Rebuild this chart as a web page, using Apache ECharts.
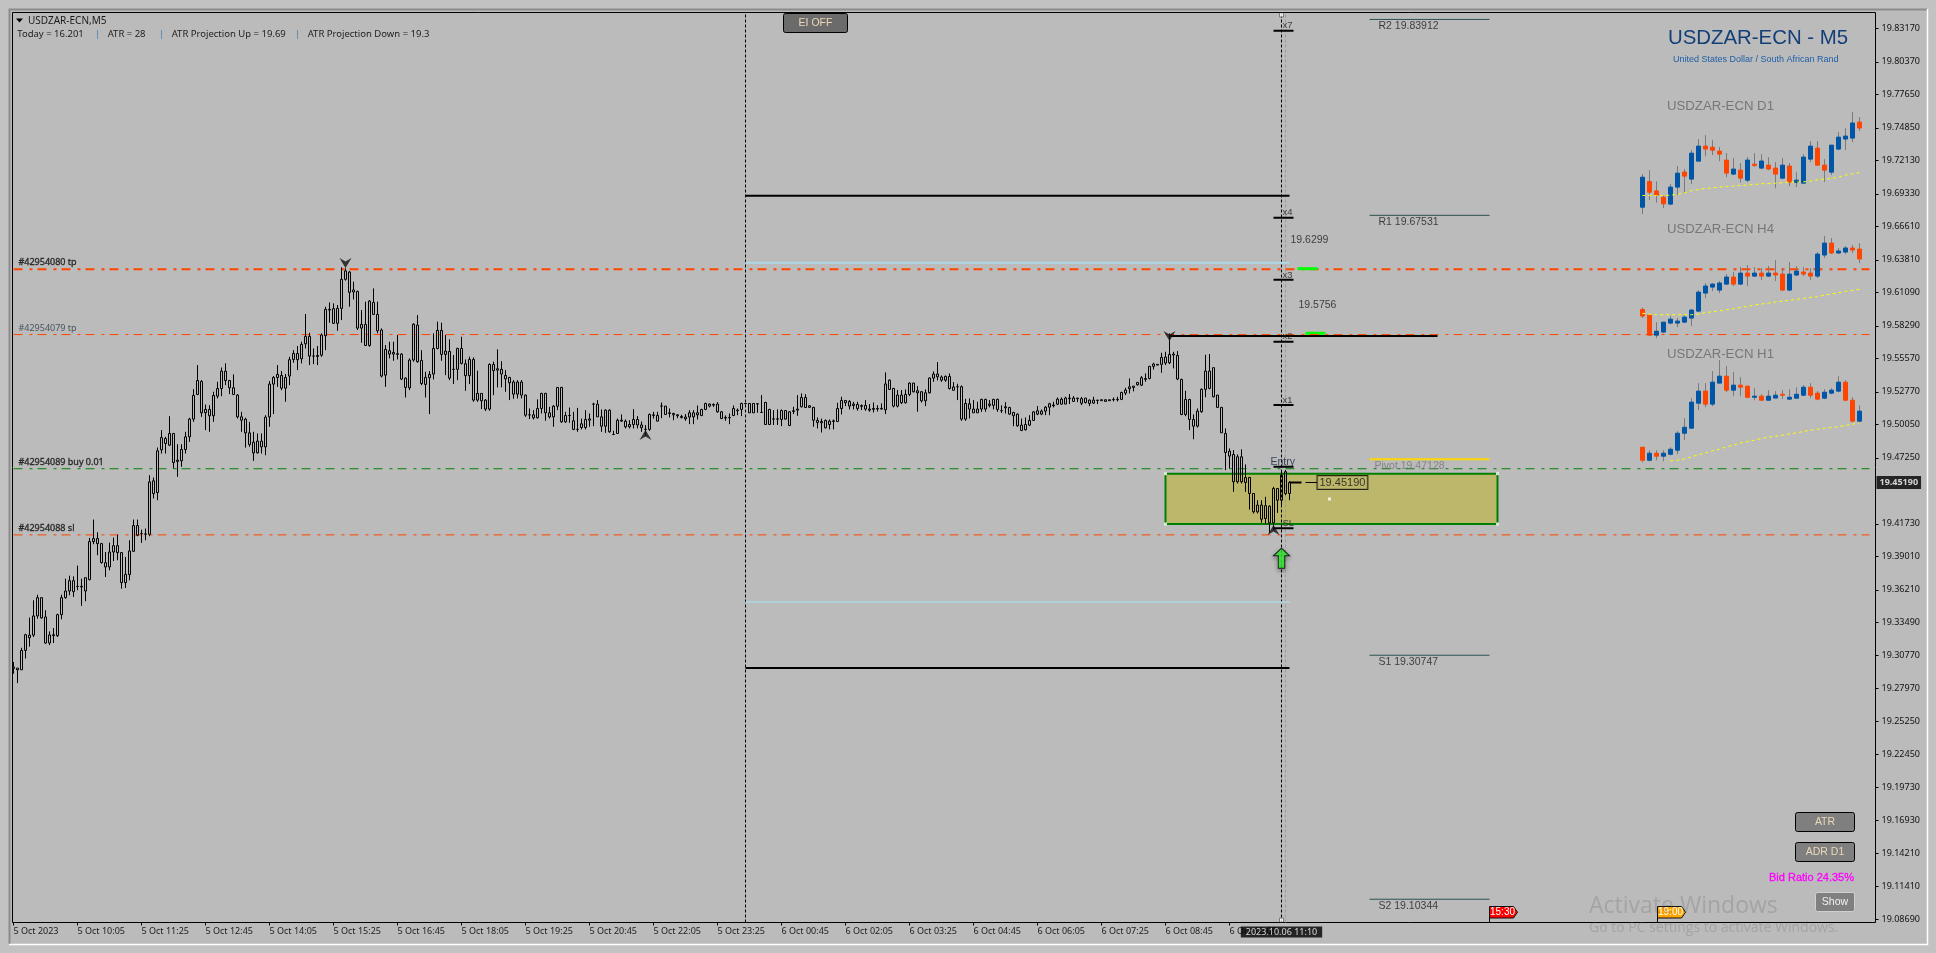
<!DOCTYPE html>
<html><head><meta charset="utf-8">
<style>html,body{margin:0;padding:0;background:#c2c2c2}#c{width:1936px;height:953px}</style>
<script src="https://cdn.jsdelivr.net/npm/echarts@6/dist/echarts.min.js"></script>
</head><body><div id="c"></div>
<script>
const tickLabels=['5 Oct 2023','5 Oct 10:05','5 Oct 11:25','5 Oct 12:45','5 Oct 14:05','5 Oct 15:25','5 Oct 16:45','5 Oct 18:05','5 Oct 19:25','5 Oct 20:45','5 Oct 22:05','5 Oct 23:25','6 Oct 00:45','6 Oct 02:05','6 Oct 03:25','6 Oct 04:45','6 Oct 06:05','6 Oct 07:25','6 Oct 08:45','6 Oct 10:05'];
const priceTicks=[19.8317,19.8037,19.7765,19.7485,19.7213,19.6933,19.6661,19.6381,19.6109,19.5829,19.5557,19.5277,19.5005,19.4725,19.4173,19.3901,19.3621,19.3349,19.3077,19.2797,19.2525,19.2245,19.1973,19.1693,19.1421,19.1141,19.0869];
// candles: [open, close, low, high]
const barsRally=[
[19.2965,19.2976,19.2920,19.3018],[19.2967,19.2953,19.2842,19.2967],[19.2953,19.3115,19.2953,19.3137],[19.3115,19.3246,19.3047,19.3254],
[19.3221,19.3243,19.3147,19.3389],[19.3243,19.3403,19.3227,19.3534],[19.3403,19.3556,19.3380,19.3581],[19.3556,19.3387,19.3380,19.3553],
[19.3395,19.3177,19.3171,19.3451],[19.3177,19.3244,19.3160,19.3274],[19.3238,19.3246,19.3177,19.3302],[19.3238,19.3414,19.3227,19.3422],
[19.3414,19.3556,19.3375,19.3581],[19.3556,19.3612,19.3548,19.3715],[19.3612,19.3698,19.3576,19.3740],[19.3698,19.3606,19.3562,19.3734],
[19.3650,19.3651,19.3618,19.3824],[19.3651,19.3645,19.3487,19.3715],[19.3612,19.3723,19.3526,19.3723],[19.3707,19.4025,19.3701,19.4056],
[19.4025,19.4050,19.4003,19.4209],[19.4050,19.4008,19.3911,19.4103],[19.4008,19.3849,19.3841,19.4014],[19.3849,19.3813,19.3729,19.3938],
[19.3813,19.3938,19.3785,19.4016],[19.3938,19.3991,19.3863,19.4058],[19.3991,19.3933,19.3869,19.4083],[19.3933,19.3682,19.3631,19.3938],
[19.3682,19.3751,19.3637,19.3896],[19.3749,19.3947,19.3701,19.4036],[19.3944,19.4159,19.3938,19.4209],[19.4159,19.4078,19.4070,19.4209],
[19.4092,19.4092,19.4014,19.4125],[19.4086,19.4089,19.4036,19.4134],[19.4086,19.4524,19.4070,19.4580],[19.4426,19.4533,19.4385,19.4561],
[19.4435,19.4784,19.4371,19.4812],[19.4792,19.4895,19.4761,19.4957],[19.4845,19.4887,19.4761,19.4901],[19.4831,19.4929,19.4823,19.5074],
[19.4929,19.4686,19.4636,19.4929],[19.4695,19.4706,19.4566,19.4839],[19.4700,19.4795,19.4650,19.4839],[19.4795,19.4901,19.4761,19.4943],
[19.4901,19.5049,19.4859,19.5060],[19.5049,19.5247,19.5026,19.5300],[19.5255,19.5372,19.5250,19.5501],[19.5364,19.5102,19.5068,19.5375],
[19.5102,19.5130,19.4957,19.5171],[19.5130,19.5077,19.4943,19.5166],[19.5077,19.5247,19.5026,19.5278],[19.5241,19.5305,19.5222,19.5361],
[19.5305,19.5450,19.5241,19.5481],[19.5450,19.5372,19.5333,19.5515],[19.5372,19.5311,19.5258,19.5375],[19.5311,19.5255,19.5250,19.5423],
[19.5250,19.5068,19.5054,19.5258],[19.5068,19.5040,19.4943,19.5110],[19.5049,19.4934,19.4811,19.5060],[19.4934,19.4837,19.4817,19.5026],
[19.4856,19.4767,19.4700,19.4943],[19.4767,19.4865,19.4761,19.4929],[19.4865,19.4817,19.4761,19.4929],[19.4817,19.5065,19.4747,19.5082],
[19.5068,19.5342,19.4985,19.5367],[19.5342,19.5397,19.5091,19.5409],[19.5397,19.5423,19.5319,19.5501],[19.5414,19.5308,19.5291,19.5451],
[19.5308,19.5397,19.5194,19.5426],[19.5409,19.5546,19.5333,19.5570],[19.5548,19.5598,19.5520,19.5626],[19.5546,19.5598,19.5459,19.5660],
[19.5554,19.5674,19.5515,19.5696],[19.5679,19.5741,19.5640,19.5928],[19.5741,19.5576,19.5501,19.5771],[19.5576,19.5576,19.5509,19.5640],
[19.5573,19.5581,19.5501,19.5660],[19.5584,19.5752,19.5570,19.5766],[19.5746,19.5967,19.5626,19.5989],[19.5967,19.5961,19.5855,19.6025],
[19.5973,19.5850,19.5844,19.6017],[19.5850,19.5975,19.5788,19.6003],[19.5975,19.6218,19.5877,19.6318],[19.6218,19.6288,19.6207,19.6310],
[19.6279,19.6109,19.5989,19.6288],[19.6129,19.6112,19.6050,19.6198],[19.6117,19.5810,19.5794,19.6123],[19.5810,19.5841,19.5688,19.5961],
[19.5841,19.5665,19.5660,19.6031],[19.5665,19.6036,19.5654,19.6045],[19.6025,19.5925,19.5919,19.6142],[19.5925,19.5788,19.5766,19.6031],
[19.5794,19.5409,19.5398,19.5808],[19.5417,19.5632,19.5319,19.5668],[19.5621,19.5593,19.5557,19.5696],[19.5607,19.5593,19.5537,19.5696],
[19.5596,19.5590,19.5548,19.5752]];
const barsMidday=[
[19.5593,19.5384,19.5375,19.5599],[19.5392,19.5314,19.5230,19.5398],[19.5311,19.5543,19.5292,19.5557],[19.5543,19.5843,19.5529,19.5850],
[19.5835,19.5529,19.5520,19.5919],[19.5540,19.5347,19.5333,19.5626],[19.5398,19.5339,19.5230,19.5445],[19.5395,19.5423,19.5091,19.5451],
[19.5426,19.5640,19.5381,19.5766],[19.5640,19.5791,19.5632,19.5864],[19.5791,19.5590,19.5537,19.5855],[19.5618,19.5590,19.5417,19.5752],
[19.5615,19.5392,19.5375,19.5716],[19.5465,19.5465,19.5342,19.5585],[19.5465,19.5640,19.5375,19.5646],[19.5640,19.5515,19.5506,19.5738],
[19.5512,19.5412,19.5286,19.5548],[19.5412,19.5548,19.5342,19.5571],[19.5548,19.5208,19.5194,19.5565],[19.5208,19.5264,19.5194,19.5454],
[19.5264,19.5202,19.5133,19.5264],[19.5208,19.5133,19.5116,19.5216],[19.5133,19.5506,19.5119,19.5515],[19.5506,19.5454,19.5250,19.5529],
[19.5470,19.5459,19.5314,19.5632],[19.5465,19.5426,19.5314,19.5534],[19.5414,19.5386,19.5278,19.5459],[19.5397,19.5353,19.5208,19.5403],
[19.5359,19.5258,19.5219,19.5375],[19.5359,19.5258,19.5222,19.5375],[19.5359,19.5250,19.5222,19.5375],[19.5250,19.5082,19.5068,19.5255],
[19.5085,19.5085,19.5049,19.5138],[19.5085,19.5060,19.5046,19.5124],[19.5060,19.5138,19.5054,19.5214],[19.5138,19.5264,19.5096,19.5269],
[19.5264,19.5102,19.5035,19.5269],[19.5102,19.5068,19.5054,19.5152],[19.5068,19.5157,19.4985,19.5166],[19.5157,19.5314,19.5124,19.5314],
[19.5314,19.5026,19.5018,19.5319],[19.5026,19.5079,19.5018,19.5110],[19.5079,19.5079,19.5018,19.5146],[19.5035,19.4963,19.4957,19.5110],
[19.4963,19.4963,19.4943,19.5143],[19.5010,19.4979,19.4963,19.5054],[19.4979,19.5046,19.4963,19.5124],[19.5040,19.5051,19.4985,19.5096],
[19.5174,19.5174,19.4990,19.5186],[19.5174,19.5068,19.5068,19.5208],[19.5068,19.4990,19.4943,19.5130],[19.4990,19.5124,19.4934,19.5130],
[19.5124,19.4943,19.4935,19.5130],[19.4921,19.4921,19.4915,19.4952],[19.4929,19.5040,19.4929,19.5054],[19.5040,19.5032,19.5026,19.5088],
[19.5032,19.4985,19.4971,19.5046],[19.4985,19.5004,19.4971,19.5040],[19.5004,19.5046,19.4971,19.5133],[19.5046,19.5000,19.4971,19.5074],
[19.5000,19.4977,19.4943,19.5029],[19.4963,19.4963,19.4907,19.4999],[19.4963,19.5088,19.4951,19.5096],[19.5085,19.5080,19.5054,19.5110],
[19.5080,19.5032,19.5032,19.5110],[19.5158,19.5158,19.5057,19.5188],[19.5158,19.5088,19.5088,19.5158],[19.5096,19.5102,19.5063,19.5138],
[19.5096,19.5085,19.5040,19.5102],[19.5085,19.5077,19.5057,19.5091],[19.5071,19.5063,19.5054,19.5085],[19.5051,19.5066,19.5035,19.5091],
[19.5066,19.5102,19.5007,19.5124],[19.5102,19.5068,19.5007,19.5124],[19.5102,19.5085,19.5046,19.5163],[19.5079,19.5130,19.5074,19.5135],
[19.5130,19.5180,19.5124,19.5186],[19.5175,19.5158,19.5147,19.5180],[19.5172,19.5166,19.5152,19.5180],[19.5175,19.5110,19.5102,19.5191],
[19.5110,19.5054,19.5049,19.5116],[19.5063,19.5057,19.5035,19.5080],[19.5063,19.5060,19.5007,19.5096],[19.5079,19.5138,19.5074,19.5163],
[19.5124,19.5119,19.5082,19.5138],[19.5130,19.5180,19.5074,19.5186],[19.5180,19.5177,19.5177,19.5180],[19.5180,19.5102,19.5102,19.5180],
[19.5180,19.5102,19.5102,19.5180],[19.5177,19.5175,19.5102,19.5180],[19.5105,19.5105,19.5102,19.5250],[19.5188,19.5004,19.5000,19.5194],
[19.5130,19.5004,19.5000,19.5135],[19.5051,19.5049,19.5000,19.5124],[19.5051,19.5049,19.5000,19.5130],[19.5121,19.5046,19.4990,19.5130],
[19.5121,19.5049,19.5046,19.5124],[19.5110,19.4996,19.4990,19.5116],[19.5119,19.5113,19.5091,19.5152]];
const barsMorning=[
[19.5133,19.5124,19.5077,19.5250],[19.5152,19.5230,19.5147,19.5264],[19.5230,19.5146,19.5146,19.5258],[19.5161,19.5147,19.5147,19.5163],
[19.5147,19.5040,19.4985,19.5152],[19.5038,19.5021,19.4971,19.5063],[19.5029,19.5018,19.4937,19.5054],[19.5038,19.4976,19.4971,19.5046],
[19.5032,19.5004,19.4963,19.5046],[19.5035,19.5029,19.4963,19.5046],[19.5029,19.5138,19.5024,19.5186],[19.5205,19.5138,19.5088,19.5236],
[19.5205,19.5186,19.5158,19.5208],[19.5197,19.5158,19.5130,19.5208],[19.5175,19.5163,19.5130,19.5194],[19.5172,19.5138,19.5119,19.5194],
[19.5163,19.5156,19.5124,19.5172],[19.5163,19.5133,19.5119,19.5208],[19.5133,19.5124,19.5110,19.5175],[19.5138,19.5130,19.5105,19.5188],
[19.5138,19.5133,19.5113,19.5166],[19.5138,19.5133,19.5130,19.5180],[19.5127,19.5343,19.5091,19.5440],[19.5375,19.5297,19.5292,19.5381],
[19.5305,19.5158,19.5147,19.5311],[19.5158,19.5250,19.5147,19.5292],[19.5250,19.5186,19.5175,19.5292],[19.5186,19.5255,19.5180,19.5297],
[19.5255,19.5350,19.5241,19.5356],[19.5350,19.5278,19.5272,19.5353],[19.5286,19.5269,19.5111,19.5325],[19.5278,19.5202,19.5188,19.5283],
[19.5202,19.5269,19.5158,19.5297],[19.5269,19.5392,19.5264,19.5398],[19.5392,19.5426,19.5361,19.5448],[19.5426,19.5403,19.5372,19.5526],
[19.5401,19.5375,19.5361,19.5414],[19.5375,19.5406,19.5361,19.5414],[19.5406,19.5305,19.5297,19.5431],[19.5318,19.5290,19.5290,19.5359],
[19.5320,19.5320,19.5208,19.5345],[19.5320,19.5049,19.5035,19.5331],[19.5049,19.5180,19.5035,19.5219],[19.5177,19.5133,19.5054,19.5222],
[19.5133,19.5102,19.5102,19.5208],[19.5102,19.5133,19.5102,19.5194],[19.5133,19.5214,19.5110,19.5219],[19.5214,19.5133,19.5110,19.5219],
[19.5175,19.5164,19.5147,19.5208],[19.5164,19.5214,19.5130,19.5219],[19.5214,19.5130,19.5110,19.5220],[19.5119,19.5119,19.5101,19.5164],
[19.5152,19.5144,19.5096,19.5191],[19.5146,19.5091,19.5085,19.5152],[19.5105,19.5077,19.4990,19.5110],[19.5091,19.4993,19.4985,19.5096],
[19.4954,19.4999,19.4949,19.5054],[19.5004,19.4960,19.4954,19.5063],[19.4999,19.5038,19.4990,19.5082],[19.5038,19.5110,19.5035,19.5116],
[19.5119,19.5091,19.5082,19.5158],[19.5091,19.5116,19.5082,19.5130],[19.5116,19.5149,19.5082,19.5158],[19.5149,19.5177,19.5082,19.5186],
[19.5167,19.5161,19.5147,19.5194],[19.5216,19.5174,19.5166,19.5230],[19.5174,19.5216,19.5172,19.5230],[19.5175,19.5225,19.5175,19.5236],
[19.5225,19.5220,19.5175,19.5259],[19.5225,19.5197,19.5194,19.5242],[19.5225,19.5220,19.5191,19.5225],[19.5220,19.5182,19.5166,19.5234],
[19.5225,19.5188,19.5180,19.5225],[19.5208,19.5180,19.5158,19.5214],[19.5208,19.5183,19.5177,19.5236],[19.5205,19.5208,19.5175,19.5208],
[19.5211,19.5203,19.5203,19.5211],[19.5211,19.5197,19.5197,19.5211],[19.5211,19.5203,19.5203,19.5211],[19.5211,19.5214,19.5197,19.5230],
[19.5211,19.5214,19.5197,19.5236],[19.5214,19.5272,19.5208,19.5278],[19.5267,19.5292,19.5250,19.5311],[19.5303,19.5319,19.5264,19.5389],
[19.5314,19.5325,19.5281,19.5325],[19.5336,19.5356,19.5330,19.5356],[19.5333,19.5395,19.5325,19.5409],[19.5381,19.5389,19.5361,19.5431],
[19.5389,19.5490,19.5381,19.5495],[19.5490,19.5510,19.5464,19.5520],[19.5501,19.5507,19.5501,19.5507],[19.5507,19.5565,19.5437,19.5604],
[19.5518,19.5568,19.5501,19.5612],[19.5520,19.5590,19.5509,19.5766],[19.5593,19.5585,19.5473,19.5612],[19.5582,19.5384,19.5375,19.5618],
[19.5381,19.5088,19.5082,19.5387],[19.5088,19.5213,19.5074,19.5286],[19.5213,19.5046,19.4957,19.5219],[19.5046,19.4990,19.4881,19.5088],
[19.4990,19.5116,19.4979,19.5138]];
const barsFinal=[
[19.5111,19.5298,19.5102,19.5306],[19.5298,19.5451,19.5232,19.5587],[19.5451,19.5306,19.5298,19.5593],[19.5479,19.5236,19.5230,19.5479],
[19.5250,19.5147,19.5147,19.5250],[19.5147,19.4935,19.4935,19.5147],[19.4929,19.4770,19.4622,19.4971],[19.4781,19.4740,19.4636,19.4804],
[19.4753,19.4525,19.4441,19.4790],[19.4734,19.4525,19.4511,19.4754],[19.4734,19.4525,19.4511,19.4796],[19.4561,19.4519,19.4441,19.4670],
[19.4561,19.4427,19.4293,19.4566],[19.4427,19.4274,19.4260,19.4427],[19.4274,19.4330,19.4260,19.4371],[19.4330,19.4212,19.4182,19.4371],
[19.4325,19.4218,19.4171,19.4399],[19.4321,19.4182,19.4098,19.4327],[19.4182,19.4469,19.4120,19.4483],[19.4469,19.4371,19.4265,19.4469],
[19.4371,19.4581,19.4316,19.4608],[19.4427,19.4609,19.4413,19.4622],[19.4427,19.4519,19.4371,19.4530]];
// small panels: [open, close, low, high]
const panelD1=[
[19.6821,19.7072,19.6763,19.7098],[19.7036,19.6946,19.6880,19.7131],[19.6957,19.6922,19.6858,19.7036],[19.6905,19.6849,19.6813,19.6919],
[19.6847,19.6989,19.6838,19.7014],[19.6989,19.7106,19.6922,19.7165],[19.7115,19.7081,19.6939,19.7140],[19.7056,19.7273,19.7014,19.7298],
[19.7206,19.7332,19.7206,19.7391],[19.7332,19.7307,19.7248,19.7424],[19.7323,19.7298,19.7257,19.7382],[19.7290,19.7265,19.7206,19.7324],
[19.7215,19.7106,19.7073,19.7274],[19.7098,19.7140,19.7089,19.7232],[19.7131,19.7064,19.7028,19.7190],[19.7047,19.7215,19.7031,19.7240],
[19.7181,19.7170,19.7159,19.7273],[19.7148,19.7207,19.7139,19.7265],[19.7173,19.7140,19.7131,19.7240],[19.7148,19.7098,19.6980,19.7198],
[19.7064,19.7173,19.7056,19.7232],[19.7165,19.7031,19.6997,19.7190],[19.7028,19.7047,19.6989,19.7114],[19.7022,19.7240,19.7022,19.7265],
[19.7223,19.7332,19.7198,19.7374],[19.7315,19.7173,19.7165,19.7374],[19.7173,19.7131,19.7031,19.7223],[19.7114,19.7340,19.7089,19.7340],
[19.7307,19.7407,19.7298,19.7449],[19.7391,19.7416,19.7298,19.7482],[19.7399,19.7525,19.7365,19.7617],[19.7533,19.7483,19.7458,19.7575]];
const panelH4=[
[19.5966,19.5911,19.5894,19.5983],[19.5919,19.5751,19.5743,19.5919],[19.5751,19.5784,19.5726,19.5860],[19.5777,19.5860,19.5768,19.5860],
[19.5852,19.5885,19.5843,19.5910],[19.5852,19.5869,19.5818,19.5894],[19.5860,19.5902,19.5852,19.5919],[19.5894,19.5961,19.5827,19.5969],
[19.5952,19.6111,19.5944,19.6128],[19.6103,19.6162,19.6061,19.6187],[19.6153,19.6178,19.6120,19.6187],[19.6128,19.6187,19.6103,19.6203],
[19.6178,19.6237,19.6170,19.6262],[19.6237,19.6178,19.6162,19.6279],[19.6178,19.6270,19.6170,19.6321],[19.6270,19.6245,19.6162,19.6337],
[19.6245,19.6270,19.6237,19.6321],[19.6270,19.6245,19.6212,19.6312],[19.6245,19.6270,19.6237,19.6329],[19.6270,19.6254,19.6203,19.6379],
[19.6262,19.6128,19.6120,19.6312],[19.6128,19.6262,19.6120,19.6362],[19.6254,19.6287,19.6245,19.6329],[19.6279,19.6262,19.6245,19.6321],
[19.6270,19.6245,19.6212,19.6312],[19.6245,19.6429,19.6229,19.6446],[19.6421,19.6521,19.6396,19.6580],[19.6521,19.6438,19.6429,19.6563],
[19.6438,19.6455,19.6429,19.6480],[19.6446,19.6480,19.6429,19.6496],[19.6480,19.6463,19.6438,19.6505],[19.6471,19.6388,19.6354,19.6521]];
const panelH1=[
[19.4814,19.4705,19.4688,19.4814],[19.4705,19.4764,19.4696,19.4789],[19.4764,19.4739,19.4705,19.4789],[19.4739,19.4764,19.4696,19.4789],
[19.4755,19.4797,19.4747,19.4814],[19.4789,19.4931,19.4755,19.4948],[19.4931,19.4981,19.4873,19.5057],[19.4973,19.5191,19.4973,19.5224],
[19.5182,19.5283,19.5124,19.5350],[19.5283,19.5174,19.5149,19.5350],[19.5174,19.5358,19.5157,19.5450],[19.5350,19.5408,19.5350,19.5542],
[19.5408,19.5291,19.5274,19.5492],[19.5291,19.5333,19.5241,19.5442],[19.5333,19.5316,19.5241,19.5400],[19.5325,19.5232,19.5224,19.5325],
[19.5232,19.5241,19.5207,19.5308],[19.5241,19.5207,19.5207,19.5257],[19.5207,19.5241,19.5207,19.5291],[19.5225,19.5249,19.5224,19.5283],
[19.5257,19.5249,19.5216,19.5291],[19.5216,19.5232,19.5207,19.5299],[19.5224,19.5257,19.5224,19.5316],[19.5249,19.5316,19.5241,19.5333],
[19.5316,19.5249,19.5224,19.5350],[19.5266,19.5216,19.5207,19.5283],[19.5224,19.5274,19.5216,19.5299],[19.5266,19.5291,19.5257,19.5308],
[19.5283,19.5358,19.5274,19.5408],[19.5358,19.5207,19.5199,19.5375],[19.5207,19.5032,19.5023,19.5232],[19.5032,19.5116,19.5023,19.5166]];
const maD1=[19.6919,19.6919,19.6919,19.6919,19.6922,19.6928,19.6941,19.6958,19.6969,19.6978,19.6983,19.6989,19.6994,19.6997,19.7003,19.7006,19.7011,19.7017,19.7019,19.7022,19.7025,19.7031,19.7031,19.7033,19.7039,19.7050,19.7056,19.7061,19.7072,19.7089,19.7100,19.7109];
const maH4=[19.5933,19.5927,19.5922,19.5922,19.5922,19.5922,19.5922,19.5922,19.5927,19.5938,19.5947,19.5955,19.5963,19.5972,19.5983,19.5991,19.6003,19.6011,19.6019,19.6028,19.6036,19.6042,19.6050,19.6058,19.6067,19.6072,19.6086,19.6095,19.6106,19.6117,19.6125,19.6134];
const maH1=[null,null,null,null,19.4700,19.4705,19.4717,19.4733,19.4750,19.4767,19.4783,19.4797,19.4817,19.4831,19.4850,19.4861,19.4873,19.4887,19.4898,19.4906,19.4914,19.4925,19.4934,19.4945,19.4956,19.4964,19.4973,19.4978,19.4987,19.4995,19.5006,19.5015];
// horizontal levels
const tpLevelMain=19.6302, tpLevelSecond=19.5756, buyLevel=19.4634, slLevel=19.4081;
const blackLevelUp=19.6917, blackLevelDown=19.2968, blueLevelUp=19.6357, blueLevelDown=19.3520, peakLevel=19.5744;
const pivots={R2:19.83912,R1:19.67531,Pivot:19.47128,S1:19.30747,S2:19.10344};
const multiples=[19.8297,19.6733,19.6215,19.5696,19.5167,19.4651,19.4136];
const zoneTop=19.4593, zoneBottom=19.4172, lastPrice=19.4519;

const bars=[].concat(barsRally,barsMidday,barsMorning,barsFinal);
const N=466, PMAX=19.84491, PMIN=19.08398;
const cats=[];for(let i=0;i<N;i++)cats.push(i%16===0&&i/16<tickLabels.length?tickLabels[i/16]:'');
const uiFont='"Noto Sans",sans-serif', txtFont='"Liberation Sans",sans-serif';

function level(a,b,v,color,width,dash,z){return {type:'line',xAxisIndex:0,yAxisIndex:0,data:[[a,v],[b,v]],showSymbol:false,symbol:'none',silent:true,animation:false,z:z||3,lineStyle:{color,width,type:dash||'solid'}}}
const dd=[9,7,3,5];
const levelSeries=[
 level(0,464,tpLevelMain,'#ff4500',2,dd),level(0,464,tpLevelSecond,'#ff4500',1,dd,4),level(0,464,buyLevel,'#008000',1,dd),level(0,464,slLevel,'#ff4500',1,dd),
 level(183,319,blackLevelUp,'#000',2),level(183,319,blackLevelDown,'#000',2),level(183,319,blueLevelUp,'#add8e6',2),level(183,319,blueLevelDown,'#add8e6',1.5),
 level(289,356,peakLevel,'#000',2),
 level(339,369,pivots.R2,'#2f4f4f',1),level(339,369,pivots.R1,'#2f4f4f',1),level(339,369,pivots.S1,'#2f4f4f',1),level(339,369,pivots.S2,'#2f4f4f',1),level(339,369,pivots.Pivot,'#ffd700',2),
 level(321,326,19.6307,'#00ff00',3),level(323,328,19.5767,'#00ff00',3),
 level(319,322,lastPrice,'#000',2),level(323,326,lastPrice,'#000',1)
];
multiples.forEach(v=>levelSeries.push(level(315,320,v,'#000',2)));

function ann(i,p,text,st){return {value:[i,p],label:Object.assign({show:true,formatter:text,position:'right',distance:1,color:'#1c1c1c',fontFamily:txtFont,fontSize:10.5},st||{})}}
const bold={fontFamily:uiFont,fontSize:9,color:'#111',textBorderColor:'#111',textBorderWidth:0.35};
const annots=[
 ann(1,19.6357,'#42954080 tp',bold),ann(1,19.5805,'#42954079 tp',{fontFamily:uiFont,fontSize:9,color:'#2a3a44'}),ann(1,19.4685,'#42954089 buy 0.01',bold),ann(1,19.4136,'#42954088 sl',bold),
 ann(341,19.8336,'R2 19.83912'),ann(341,19.6697,'R1 19.67531'),ann(341,19.3018,'S1 19.30747'),ann(341,19.0977,'S2 19.10344'),ann(340,19.4657,'Pivot 19.47128',{color:'#777'}),
 ann(317,19.8345,'x7',{fontSize:9.5}),ann(317,19.6775,'x4',{fontSize:9.5}),ann(317,19.6254,'x3',{fontSize:9.5}),ann(317,19.5738,'x2',{fontSize:9.5}),ann(317,19.5209,'x1',{fontSize:9.5}),
 ann(314,19.4693,'Entry',{color:'#14233a'}),ann(317,19.4180,'SL',{fontSize:9.5}),
 ann(319,19.6547,'19.6299'),ann(321,19.6003,'19.5756'),
 ann(326,lastPrice,'19.45190',{backgroundColor:'#bdb76b',borderColor:'#000',borderWidth:1,padding:[1,2,1,2],fontSize:11,distance:0,color:'#111'}),
 ann(465,lastPrice,'19.45190',{backgroundColor:'#000',color:'#fff',padding:[2,3,2,3],fontFamily:uiFont,fontSize:9,distance:3,fontWeight:'bold'}),
 {value:[317,PMIN],label:{show:true,formatter:'2023.10.06 11:10',position:'bottom',distance:4,color:'#fff',backgroundColor:'#000',padding:[1,5,1,5],fontFamily:uiFont,fontSize:9}}
];
const arrowPath='path://M0,0 L5,3.5 L10,0 L5,10 Z';
const option={
 animation:false,backgroundColor:'transparent',
 textStyle:{fontFamily:uiFont},
 grid:[{left:11.5,top:12.5,width:1864,height:910,containLabel:false},{left:1638.8,top:12.5,width:224,height:910}],
 xAxis:[{type:'category',gridIndex:0,data:cats,boundaryGap:true,axisLine:{show:false},
   axisTick:{show:true,alignWithLabel:true,length:3,lineStyle:{color:'#000'},interval:(i)=>i%16===0&&i<=304},
   axisLabel:{show:true,interval:(i)=>i%16===0&&i<=304,align:'left',margin:4,color:'#1c1c1c',fontFamily:uiFont,fontSize:9,hideOverlap:false},splitLine:{show:false}},
  {type:'category',gridIndex:1,data:panelD1.map((_,i)=>i),show:false,boundaryGap:true}],
 yAxis:[{type:'value',gridIndex:0,position:'right',min:PMIN,max:PMAX,scale:true,splitLine:{show:false},axisLine:{show:false},
   axisTick:{show:true,length:3,customValues:priceTicks,lineStyle:{color:'#000'}},
   axisLabel:{show:true,customValues:priceTicks,margin:6,color:'#111',fontFamily:uiFont,fontSize:9,formatter:v=>v.toFixed(5)}},
  {type:'value',gridIndex:1,min:PMIN,max:PMAX,show:false,scale:true}],
 graphic:{elements:[
  {type:'rect',z:-10,silent:true,shape:{x:9,y:9,width:1918,height:935},style:{fill:'#bbbbbb',stroke:null}},
  {type:'polyline',z:-9,silent:true,shape:{points:[[9.5,944],[9.5,9.5],[1927,9.5]]},style:{stroke:'#8c8c8c',lineWidth:2,fill:null}},
  {type:'polyline',z:-9,silent:true,shape:{points:[[1927.5,9],[1927.5,944.5],[9,944.5]]},style:{stroke:'#ffffff',lineWidth:1.5,fill:null}},
  {type:'rect',z:1,silent:true,shape:{x:12.5,y:12.5,width:1863,height:910},style:{fill:null,stroke:'#000',lineWidth:1}},
  {type:'polygon',z:6,silent:true,shape:{points:[[16,18.5],[23,18.5],[19.5,22.5]]},style:{fill:'#000'}},
  T(28,21,'USDZAR-ECN,M5',{fontSize:10,fill:'#1a1a1a'}),
  T(17.3,34,'Today = 16.201',{fill:'#222'}),T(95,34,'|',{fill:'#3f7fbf'}),
  T(107.7,34,'ATR = 28',{fill:'#222'}),T(159,34,'|',{fill:'#3f7fbf'}),
  T(171.7,34,'ATR Projection Up = 19.69',{fill:'#222'}),T(295,34,'|',{fill:'#3f7fbf'}),
  T(307.7,34,'ATR Projection Down = 19.3',{fill:'#222'}),
  T(1668,38,'USDZAR-ECN - M5',{fontSize:20.4,fontFamily:txtFont,fill:'#123f78'}),
  T(1673,60,'United States Dollar / South African Rand',{fontSize:9,fontFamily:txtFont,fill:'#1f5fa8'}),
  T(1667,106,'USDZAR-ECN D1',{fontSize:13.2,fontFamily:txtFont,fill:'#777'}),
  T(1667,229.5,'USDZAR-ECN H4',{fontSize:13.2,fontFamily:txtFont,fill:'#777'}),
  T(1667,354,'USDZAR-ECN H1',{fontSize:13.2,fontFamily:txtFont,fill:'#777'}),
  B(783.5,13.5,64,19,'EI OFF','#6b6b6b','#000','#f0d8b8'),
  B(1795.5,812.5,59,19,'ATR','#7f7f7f','#000','#ecd9b8'),
  B(1795.5,842.5,59,19,'ADR D1','#7f7f7f','#000','#ecd9b8'),
  B(1815.5,892.5,39,19,'Show','#808080','#d0d0d0','#f2f2f2'),
  T(1854,878,'Bid Ratio 24.35%',{fontSize:11,fontFamily:txtFont,fill:'#ff00ff',textAlign:'right',stroke:'#ff00ff',lineWidth:0.3}),
  tag(1489.5,'15:30','#ff0000'),tag(1657.5,'19:00','#ffa500'),
  T(1589,906,'Activate Windows',{fontSize:23,fontFamily:'"Open Sans",sans-serif',fill:'rgba(80,80,80,0.22)',z:30}),
  T(1589,928,'Go to PC settings to activate Windows.',{fontSize:14,fontFamily:'"Open Sans",sans-serif',fill:'rgba(80,80,80,0.22)',z:30})
 ]},
 series:[
  {type:'scatter',name:'zone',xAxisIndex:0,yAxisIndex:0,data:[],silent:true,z:1,
   markArea:{silent:true,z:1,itemStyle:{color:'#bdb76b',borderColor:'#008000',borderWidth:2},data:[[{xAxis:288,yAxis:zoneTop},{xAxis:371,yAxis:zoneBottom}]]},
   markLine:{silent:true,symbol:'none',z:2,label:{show:false},data:[
     {xAxis:183,lineStyle:{color:'#000',type:[3,2],width:1}},{xAxis:317,lineStyle:{color:'#000',type:[3,2],width:1}},{xAxis:318,lineStyle:{color:'#9c9c9c',type:[3,2],width:1}}]}},
  ...levelSeries,
  {type:'candlestick',name:'USDZAR-ECN,M5',xAxisIndex:0,yAxisIndex:0,data:bars,barWidth:3,silent:true,z:4,
   itemStyle:{color:'rgba(0,0,0,0)',color0:'rgba(0,0,0,0)',borderColor:'#000',borderColor0:'#000',borderColorDoji:'#000',borderWidth:1}},
  ...[panelD1,panelH4,panelH1].flatMap((d)=>[
   {type:'candlestick',xAxisIndex:1,yAxisIndex:1,data:d,barWidth:1,silent:true,z:5,itemStyle:{color:'#7a7a7a',color0:'#7a7a7a',borderColor:'#7a7a7a',borderColor0:'#7a7a7a',borderColorDoji:'#7a7a7a',borderWidth:1}},
   {type:'candlestick',xAxisIndex:1,yAxisIndex:1,data:d.map(r=>[r[0],r[1],Math.min(r[0],r[1]),Math.max(r[0],r[1])]),barWidth:4,silent:true,z:6,itemStyle:{color:'#0055a5',color0:'#ff4500',borderColor:'#0055a5',borderColor0:'#ff4500',borderColorDoji:'#ff4500',borderWidth:1}}]),
  ...[maD1,maH4,maH1].map(d=>({type:'line',xAxisIndex:1,yAxisIndex:1,data:d,showSymbol:false,symbol:'none',silent:true,z:7,connectNulls:false,lineStyle:{color:'#ffff00',width:1,type:[3,3]}})),
  {type:'scatter',xAxisIndex:0,yAxisIndex:0,silent:true,z:8,symbol:arrowPath,symbolSize:[12,10],itemStyle:{color:'#111'},data:[[83,19.6354]]},
  {type:'scatter',xAxisIndex:0,yAxisIndex:0,silent:true,z:8,symbol:arrowPath,symbolSize:[12,10],itemStyle:{color:'#111'},data:[[289,19.5744]]},
  {type:'scatter',xAxisIndex:0,yAxisIndex:0,silent:true,z:8,symbol:arrowPath,symbolRotate:180,symbolSize:[12,10],itemStyle:{color:'#111'},data:[[158,19.4916],[315,19.4122]]},
  {type:'scatter',xAxisIndex:0,yAxisIndex:0,silent:true,z:8,symbol:'path://M5,0 L10,6 L7,6 L7,16 L3,16 L3,6 L0,6 Z',symbolSize:[16,20],itemStyle:{color:'#33ff33',borderColor:'#000',borderWidth:1,shadowColor:'rgba(0,0,0,0.45)',shadowBlur:4,shadowOffsetY:2},data:[[317,19.3886]]},
  {type:'scatter',xAxisIndex:0,yAxisIndex:0,silent:true,z:8,symbol:'rect',symbolSize:4,itemStyle:{color:'#fff',borderColor:'#000',borderWidth:0.5},data:[[317,PMIN+0.002],[317,PMAX-0.002]]},
  {type:'scatter',xAxisIndex:0,yAxisIndex:0,silent:true,z:8,symbol:'rect',symbolSize:3,itemStyle:{color:'#fff'},data:[[288,zoneTop],[371,zoneTop],[288,zoneBottom],[371,zoneBottom],[329,19.4381]]},
  {type:'scatter',name:'notes',xAxisIndex:0,yAxisIndex:0,silent:true,z:9,symbolSize:0,data:annots,labelLayout:{hideOverlap:false}}
 ]
};
function T(x,y,text,st){const s=Object.assign({text,x,y,fontSize:9.5,fontFamily:uiFont,fill:'#222',textVerticalAlign:'middle',textAlign:'left'},st||{});const z=s.z||6;delete s.z;return {type:'text',silent:true,z,style:s}}
function B(x,y,w,h,text,fill,stroke,color){return {type:'group',silent:true,z:6,children:[
  {type:'rect',shape:{x,y,width:w,height:h,r:2},style:{fill,stroke,lineWidth:1},z:6},
  {type:'text',z:7,style:{text,x:x+w/2,y:y+h/2,textAlign:'center',textVerticalAlign:'middle',fontSize:10.5,fontFamily:txtFont,fill:color}}]}}
function tag(x,text,fill){const t=906.5,b=918;return {type:'group',silent:true,z:6,children:[
  {type:'polygon',z:6,shape:{points:[[x,t],[x+24,t],[x+28,(t+b)/2],[x+24,b],[x,b]]},style:{fill,stroke:'#111',lineWidth:1}},
  {type:'line',z:6,shape:{x1:x,y1:b,x2:x,y2:922},style:{stroke:'#000',lineWidth:1}},
  {type:'text',z:7,style:{text,x:x+13,y:(t+b)/2,textAlign:'center',textVerticalAlign:'middle',fontSize:10,fontFamily:txtFont,fill:'#fff'}}]}}
const chart=echarts.init(document.getElementById('c'),null,{renderer:'canvas',width:1936,height:953});
chart.setOption(option);
</script></body></html>
